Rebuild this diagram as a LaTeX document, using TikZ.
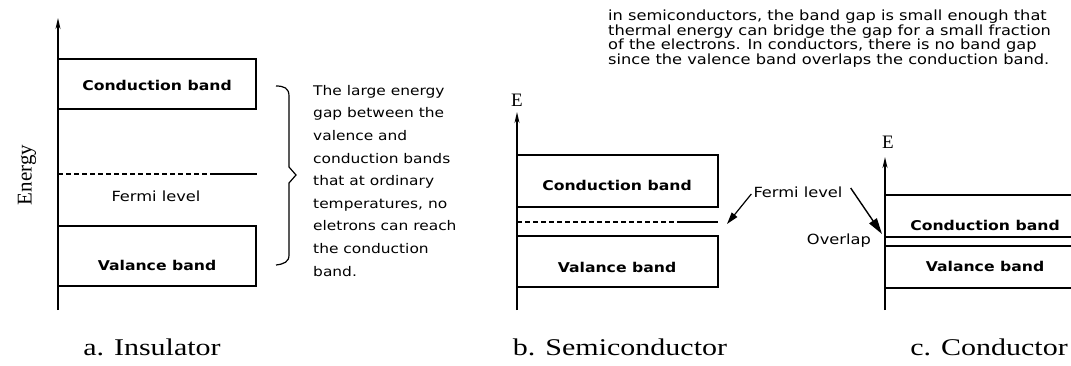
\documentclass[tikz,border=0pt]{standalone}
\usepackage{fontspec}
\setmainfont[FakeStretch=1.25]{Liberation Serif}
\newfontfamily\smallsans[FakeStretch=1.16]{DejaVu Sans}
\newfontfamily\plainserif{Liberation Serif}
\usetikzlibrary{arrows.meta}
\begin{document}
\begin{tikzpicture}[x=1pt,y=-1pt,
  bandline/.style={line width=1.3pt},
  axisline/.style={line width=1.6pt,-{Stealth[length=11pt,width=5pt]}},
  ptr/.style={line width=1.2pt,-{Triangle[length=12pt,width=7pt]}},
  ptrbig/.style={line width=1.4pt,-{Triangle[length=16pt,width=9pt]}},
  bandlabel/.style={font=\smallsans\bfseries\fontsize{13.5}{15}\selectfont,inner sep=0pt},
  smalltext/.style={font=\smallsans\fontsize{14}{15}\selectfont,inner sep=0pt},
  bigcap/.style={font=\fontsize{24}{26}\selectfont,inner sep=0pt},
  elabel/.style={font=\plainserif\fontsize{19}{20}\selectfont,inner sep=0pt}
]
\useasboundingbox (0,0) rectangle (1071,365);

% ---------- a. Insulator ----------
\coordinate (aAxB) at (58,310);
\coordinate (aAxT) at (58,18);
\draw[axisline] (aAxB) -- (aAxT);
\node[rotate=90,font=\plainserif\fontsize{21}{22}\selectfont,inner sep=0pt] (energy) at (27,175) {Energy};
\draw[bandline] (58,59) rectangle (256,109);
\node[bandlabel] (aCB) at (157,85) {Conduction band};
\coordinate (aF1) at (58,174);
\coordinate (aF2) at (213,174);
\coordinate (aF3) at (257,174);
\draw[line width=1.1pt,dash pattern=on 5pt off 3pt] (aF1) -- (aF2);
\draw[line width=1.1pt] (aF2) -- (aF3);
\node[smalltext] (aFL) at (156,196) {Fermi level};
\draw[bandline] (58,226) rectangle (256,286);
\node[bandlabel] (aVB) at (157,265) {Valance band};
% brace
\draw[line width=1.2pt] (276,86) .. controls (284,86) and (289,88) .. (289,96)
  -- (289,167) -- (296,175) -- (289,183) -- (289,255)
  .. controls (289,262) and (284,264) .. (276,265);
\node[smalltext,anchor=north west,align=left,font=\smallsans\fontsize{13.3}{22.6}\selectfont] (aTxt) at (313,85)
 {The large energy\\gap between the\\valence and\\conduction bands\\that at ordinary\\temperatures, no\\eletrons can reach\\the conduction\\band.};
\node[bigcap] (aCap) at (152,347) {a. Insulator};

% ---------- b. Semiconductor ----------
\node[elabel] (bE) at (517,100) {E};
\coordinate (bAxB) at (517,310);
\coordinate (bAxT) at (517,112);
\draw[axisline] (bAxB) -- (bAxT);
\draw[bandline] (517,155) rectangle (718,207);
\node[bandlabel] (bCB) at (617,185) {Conduction band};
\coordinate (bF1) at (517,222);
\coordinate (bF2) at (680,222);
\coordinate (bF3) at (718,222);
\draw[line width=1.1pt,dash pattern=on 5pt off 3pt] (bF1) -- (bF2);
\draw[line width=1.1pt] (bF2) -- (bF3);
\draw[bandline] (517,236) rectangle (718,287);
\node[bandlabel] (bVB) at (617,267) {Valance band};
\node[bigcap] (bCap) at (620,347) {b. Semiconductor};

% ---------- shared Fermi level label ----------
\node[smalltext] (FL) at (798,192) {Fermi level};
\coordinate (bTip) at (727,224);
\coordinate (cTip) at (882,234);
\draw[ptr] (FL.west) ++(-2,2) coordinate (fls) -- (bTip);
\draw[ptrbig] (FL.east) ++(8,-4) coordinate (fle) -- (cTip);

% ---------- c. Conductor ----------
\node[elabel] (cE) at (888,142) {E};
\coordinate (cAxB) at (885,310);
\coordinate (cAxT) at (885,157);
\draw[axisline] (cAxB) -- (cAxT);
\draw[bandline] (885,195) -- (1071,195);
\draw[bandline] (885,237) -- (1071,237);
\draw[bandline] (885,246) -- (1071,246);
\draw[bandline] (885,288) -- (1071,288);
\node[bandlabel] (cCB) at (985,225) {Conduction band};
\node[bandlabel] (cVB) at (985,266) {Valance band};
\node[smalltext,anchor=east] (ovl) at (871,241) {Overlap};
\node[bigcap] (cCap) at (989,347) {c. Conductor};

% ---------- top explanation ----------
\node[smalltext,anchor=north west,align=left,font=\smallsans\fontsize{14}{12}\selectfont] (top) at (608,10)
 {in semiconductors, the band gap is small enough that\\thermal energy can bridge the gap for a small fraction\\of the electrons. In conductors, there is no band gap\\since the valence band overlaps the conduction band.};
\end{tikzpicture}
\end{document}
